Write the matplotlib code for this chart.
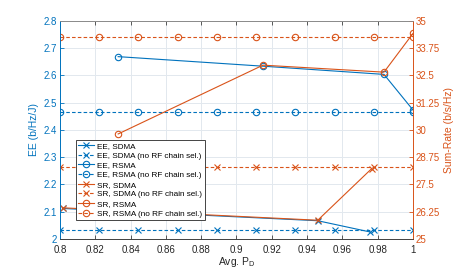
import numpy as np
import matplotlib
matplotlib.use("Agg")
import matplotlib.pyplot as plt

plt.rcParams['font.family'] = ['Liberation Sans', 'DejaVu Sans']

BLUE = '#0072BD'
ORANGE = '#D95319'

# x positions for constant (no RF chain selection) baselines
x_base = [0.8, 0.8222, 0.8444, 0.8667, 0.8889, 0.9111, 0.9333, 0.9556, 0.9778, 1.0]

# EE (left axis)
ee_sdma_x = [0.8015, 0.946, 0.9755]
ee_sdma_y = [2.112, 2.067, 2.026]
ee_sdma_norf = 2.033
ee_rsma_x = [0.833, 0.915, 0.9835, 1.0]
ee_rsma_y = [2.668, 2.633, 2.603, 2.472]
ee_rsma_norf = 2.466

# Sum-rate (right axis)
sr_sdma_x = [0.8015, 0.946, 0.9765]
sr_sdma_y = [26.43, 25.86, 28.22]
sr_sdma_norf = 28.28
sr_rsma_x = [0.833, 0.915, 0.9835, 1.0]
sr_rsma_y = [29.81, 32.96, 32.64, 34.42]
sr_rsma_norf = 34.25

xticks = [0.8, 0.82, 0.84, 0.86, 0.88, 0.9, 0.92, 0.94, 0.96, 0.98, 1.0]
xticklabels = ['0.8', '0.82', '0.84', '0.86', '0.88', '0.9', '0.92', '0.94', '0.96', '0.98', '1']
ee_ticks = [2.0, 2.1, 2.2, 2.3, 2.4, 2.5, 2.6, 2.7, 2.8]
ee_ticklabels = ['2', '2.1', '2.2', '2.3', '2.4', '2.5', '2.6', '2.7', '2.8']
sr_ticks = [25, 26.25, 27.5, 28.75, 30, 31.25, 32.5, 33.75, 35]
sr_ticklabels = ['25', '26.25', '27.5', '28.75', '30', '31.25', '32.5', '33.75', '35']

fig = plt.figure(figsize=(4.57, 2.71), dpi=100)
ax = fig.add_axes([0.131, 0.118, 0.773, 0.806])
ax2 = ax.twinx()

lw = 0.8
msx = 4.0
mso = 4.6
mew = 0.8
dash = (0, (3.2, 2.0))

handles = []
h, = ax.plot(ee_sdma_x, ee_sdma_y, color=BLUE, lw=lw, marker='x', ms=msx, mew=mew, label='EE, SDMA')
handles.append(h)
h, = ax.plot(x_base, [ee_sdma_norf] * len(x_base), color=BLUE, lw=lw, ls=dash, marker='x', ms=msx, mew=mew,
             label='EE, SDMA (no RF chain sel.)')
handles.append(h)
h, = ax.plot(ee_rsma_x, ee_rsma_y, color=BLUE, lw=lw, marker='o', ms=mso, mew=mew, mfc='none',
             label='EE, RSMA')
handles.append(h)
h, = ax.plot(x_base, [ee_rsma_norf] * len(x_base), color=BLUE, lw=lw, ls=dash, marker='o', ms=mso, mew=mew,
             mfc='none', label='EE, RSMA (no RF chain sel.)')
handles.append(h)

h, = ax2.plot(sr_sdma_x, sr_sdma_y, color=ORANGE, lw=lw, marker='x', ms=msx, mew=mew, label='SR, SDMA')
handles.append(h)
h, = ax2.plot(x_base, [sr_sdma_norf] * len(x_base), color=ORANGE, lw=lw, ls=dash, marker='x', ms=msx, mew=mew,
              label='SR, SDMA (no RF chain sel.)')
handles.append(h)
h, = ax2.plot(sr_rsma_x, sr_rsma_y, color=ORANGE, lw=lw, marker='o', ms=mso, mew=mew, mfc='none',
              label='SR, RSMA')
handles.append(h)
h, = ax2.plot(x_base, [sr_rsma_norf] * len(x_base), color=ORANGE, lw=lw, ls=dash, marker='o', ms=mso, mew=mew,
              mfc='none', label='SR, RSMA (no RF chain sel.)')
handles.append(h)

ax.set_xlim(0.8, 1.0)
ax.set_ylim(2.0, 2.8)
ax2.set_ylim(25, 35)
ax.set_xticks(xticks)
ax.set_xticklabels(xticklabels)
ax.set_yticks(ee_ticks)
ax.set_yticklabels(ee_ticklabels)
ax2.set_yticks(sr_ticks)
ax2.set_yticklabels(sr_ticklabels)

ax.grid(True, color='#e2e8ee', lw=0.7)
ax.set_axisbelow(True)

for a in (ax, ax2):
    a.tick_params(direction='in', length=3, width=0.6, labelsize=7, pad=2)
    for s in a.spines.values():
        s.set_linewidth(0.6)
ax.tick_params(axis='x', top=True, colors='#404040', labelcolor='#262626', pad=4)
ax.tick_params(axis='y', colors=BLUE)
ax2.tick_params(axis='y', colors=ORANGE)
ax.spines['left'].set_color(BLUE)
ax2.spines['left'].set_color(BLUE)
ax2.spines['right'].set_color(ORANGE)
ax.spines['right'].set_color(ORANGE)
for a in (ax, ax2):
    a.spines['top'].set_color('#8a8a8a')
    a.spines['bottom'].set_color('#404040')

ax.set_ylabel('EE (b/Hz/J)', color=BLUE, fontsize=7.5, labelpad=3)
ax2.set_ylabel('Sum-Rate (b/s/Hz)', color=ORANGE, fontsize=7.5, labelpad=3)
ax.set_xlabel('Avg. P$_\\mathregular{D}$', fontsize=7.5, color='#262626', labelpad=0)

leg = ax2.legend(handles=handles, loc='upper left', bbox_to_anchor=(0.045, 0.455), fontsize=5.9,
                 frameon=True, fancybox=False, edgecolor='#262626', framealpha=1,
                 handlelength=1.9, handletextpad=0.4, labelspacing=0.24, borderpad=0.3,
                 borderaxespad=0)
leg.get_frame().set_linewidth(0.6)

fig.savefig('out.png', dpi=100)
